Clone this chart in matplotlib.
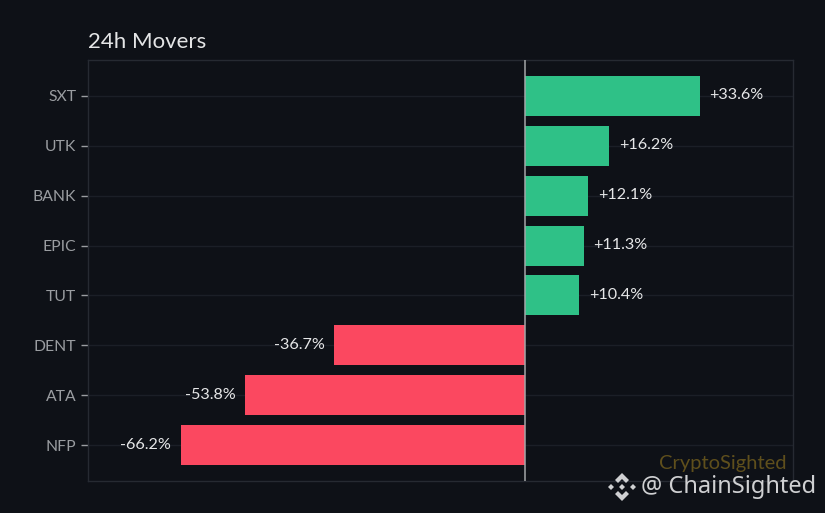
import matplotlib
matplotlib.use("Agg")
import matplotlib.pyplot as plt
from matplotlib.patches import Polygon

symbols = ["SXT", "UTK", "BANK", "EPIC", "TUT", "DENT", "ATA", "NFP"]
changes = [33.6, 16.2, 12.1, 11.3, 10.4, -36.7, -53.8, -66.2]

BG = "#0e1117"
GREEN = "#2fc187"
RED = "#fb4860"
plt.rcParams["font.family"] = ["Lato", "DejaVu Sans"]

W, H = 825, 513
fig = plt.figure(figsize=(W / 100, H / 100), dpi=100, facecolor=BG)
ax = fig.add_axes([88 / W, 1 - 481 / H, 705 / W, 421 / H], facecolor=BG)

ypos = list(range(len(symbols)))
colors = [GREEN if v > 0 else RED for v in changes]
ax.barh(ypos, changes, height=0.8, color=colors, zorder=3)
ax.set_xlim(-84.03, 51.47)
ax.set_ylim(len(symbols) - 1 + 0.72, -0.72)
ax.axvline(0, color="#a4a6a8", lw=1.1, zorder=4)

ax.set_yticks(ypos, symbols)
ax.set_xticks([])
ax.tick_params(axis="y", colors="#9a9da1", labelsize=11.3, length=5, width=1, pad=3.5)
ax.grid(axis="y", color="#1b1f27", lw=1, zorder=0)
for s in ax.spines.values():
    s.set_color("#262a32")
    s.set_linewidth(1)

for y, v in zip(ypos, changes):
    label = f"{v:+.1f}%"
    if v > 0:
        ax.annotate(label, (v, y), xytext=(9.5, 0.5), textcoords="offset pixels",
                    va="center", ha="left", color="#e6e7e8", fontsize=11.6, zorder=5)
    else:
        ax.annotate(label, (v, y), xytext=(-9.5, 0.5), textcoords="offset pixels",
                    va="center", ha="right", color="#e6e7e8", fontsize=11.6, zorder=5)

fig.text(88 / W, 1 - 42 / H, "24h Movers", color="#e4e5e6", fontsize=16, va="center", ha="left")
fig.text(786 / W, 1 - 463 / H, "CryptoSighted", color="#5f4f1c", fontsize=14.5, va="center", ha="right")
fig.text(641 / W, 1 - 487 / H, "@ ChainSighted", color="#cfd0d2", fontsize=17,
         family=["Noto Sans", "DejaVu Sans"], va="center", ha="left")

# watermark diamond logo, in pixel coordinates
cx, cy = 622, 487
def px(points):
    return [((cx + a) / W, 1 - (cy + b) / H) for a, b in points]
shapes = [
    [(0, -14), (7, -7), (4, -4), (0, -8), (-4, -4), (-7, -7)],
    [(0, 14), (7, 7), (4, 4), (0, 8), (-4, 4), (-7, 7)],
    [(-14, 0), (-11, -3), (-8, 0), (-11, 3)],
    [(14, 0), (11, -3), (8, 0), (11, 3)],
    [(0, -3), (3, 0), (0, 3), (-3, 0)],
]
for pts in shapes:
    fig.add_artist(Polygon(px(pts), closed=True, transform=fig.transFigure,
                           facecolor="#cfd0d2", edgecolor="none"))

fig.savefig("out.png", dpi=100, facecolor=BG)
